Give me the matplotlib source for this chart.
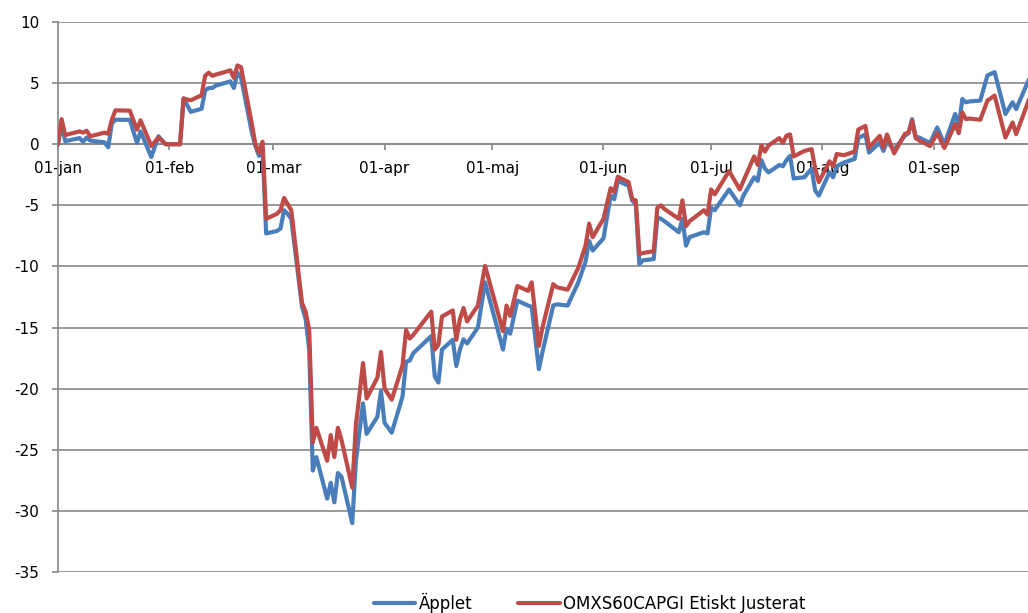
import matplotlib
matplotlib.use("Agg")
import matplotlib.pyplot as plt
import matplotlib.dates as mdates
import pandas as pd

# Cumulative return (%) since the start of 2020, trading days where the curves turn
dates = [
    "2020-01-01", "2020-01-02", "2020-01-03", "2020-01-07", "2020-01-08", "2020-01-09",
    "2020-01-10", "2020-01-14", "2020-01-15", "2020-01-16", "2020-01-17", "2020-01-21",
    "2020-01-23", "2020-01-24", "2020-01-27", "2020-01-29", "2020-01-31", "2020-02-03",
    "2020-02-04", "2020-02-05", "2020-02-06", "2020-02-07", "2020-02-10", "2020-02-11",
    "2020-02-12", "2020-02-13", "2020-02-14", "2020-02-17", "2020-02-18", "2020-02-19",
    "2020-02-20", "2020-02-21", "2020-02-24", "2020-02-25", "2020-02-26", "2020-02-27",
    "2020-02-28", "2020-03-02", "2020-03-03", "2020-03-04", "2020-03-05", "2020-03-06",
    "2020-03-09", "2020-03-10", "2020-03-11", "2020-03-12", "2020-03-13", "2020-03-16",
    "2020-03-17", "2020-03-18", "2020-03-19", "2020-03-20", "2020-03-23", "2020-03-24",
    "2020-03-25", "2020-03-26", "2020-03-27", "2020-03-30", "2020-03-31", "2020-04-01",
    "2020-04-03", "2020-04-06", "2020-04-07", "2020-04-08", "2020-04-09", "2020-04-14",
    "2020-04-15", "2020-04-16", "2020-04-17", "2020-04-20", "2020-04-21", "2020-04-22",
    "2020-04-23", "2020-04-24", "2020-04-27", "2020-04-29", "2020-05-04", "2020-05-05",
    "2020-05-06", "2020-05-08", "2020-05-11", "2020-05-12", "2020-05-14", "2020-05-15",
    "2020-05-18", "2020-05-19", "2020-05-22", "2020-05-25", "2020-05-27", "2020-05-28",
    "2020-05-29", "2020-06-01", "2020-06-03", "2020-06-04", "2020-06-05", "2020-06-08",
    "2020-06-09", "2020-06-10", "2020-06-11", "2020-06-12", "2020-06-15", "2020-06-16",
    "2020-06-17", "2020-06-18", "2020-06-22", "2020-06-23", "2020-06-24", "2020-06-25",
    "2020-06-29", "2020-06-30", "2020-07-01", "2020-07-02", "2020-07-06", "2020-07-09",
    "2020-07-10", "2020-07-13", "2020-07-14", "2020-07-15", "2020-07-16", "2020-07-17",
    "2020-07-20", "2020-07-21", "2020-07-22", "2020-07-23", "2020-07-24", "2020-07-27",
    "2020-07-29", "2020-07-30", "2020-07-31", "2020-08-03", "2020-08-04", "2020-08-05",
    "2020-08-07", "2020-08-10", "2020-08-11", "2020-08-13", "2020-08-14", "2020-08-17",
    "2020-08-18", "2020-08-19", "2020-08-21", "2020-08-24", "2020-08-25", "2020-08-26",
    "2020-08-27", "2020-08-28", "2020-08-31", "2020-09-02", "2020-09-04", "2020-09-07",
    "2020-09-08", "2020-09-09", "2020-09-10", "2020-09-11", "2020-09-14", "2020-09-16",
    "2020-09-18", "2020-09-21", "2020-09-23", "2020-09-24", "2020-09-28",
]

applet = [
    0.0, 1.7, 0.25, 0.5, 0.2, 0.55,
    0.3, 0.15, -0.25, 1.7, 2.0, 2.0,
    0.1, 1.05, -1.05, 0.65, 0.0, 0.0,
    0.0, 3.75, 3.2, 2.65, 2.9, 4.4,
    4.6, 4.6, 4.8, 5.05, 5.15, 4.6,
    5.85, 5.45, 1.0, -0.15, -0.95, -0.4,
    -7.3, -7.1, -6.9, -5.4, -5.7, -6.1,
    -13.3, -14.3, -16.8, -26.7, -25.6, -29.0,
    -27.7, -29.3, -26.9, -27.2, -31.0, -26.0,
    -23.5, -21.2, -23.7, -22.3, -20.2, -22.8,
    -23.6, -20.65, -17.8, -17.7, -17.1, -15.7,
    -19.0, -19.5, -16.8, -16.0, -18.15, -16.8,
    -15.96, -16.3, -15.0, -11.3, -16.8, -15.1,
    -15.5, -12.8, -13.2, -13.3, -18.4, -17.0,
    -13.2, -13.1, -13.2, -11.3, -9.6, -7.9,
    -8.7, -7.7, -4.2, -4.5, -3.0, -3.4,
    -4.6, -4.9, -9.8, -9.5, -9.4, -6.0,
    -6.1, -6.3, -7.2, -6.1, -8.3, -7.6,
    -7.2, -7.3, -5.2, -5.4, -3.7, -5.0,
    -4.2, -2.7, -3.0, -1.3, -2.0, -2.3,
    -1.7, -1.8, -1.3, -0.95, -2.8, -2.7,
    -2.0, -3.8, -4.2, -2.3, -2.7, -1.8,
    -1.5, -1.2, 0.5, 0.8, -0.68, 0.14,
    -0.55, 0.2, -0.45, 0.7, 0.9, 2.05,
    0.6, 0.55, 0.1, 1.37, 0.0, 2.47,
    1.5, 3.7, 3.43, 3.5, 3.57, 5.63,
    5.9, 2.47, 3.43, 2.88, 5.6,
]

omxs60_etiskt = [
    0.0, 2.05, 0.75, 1.05, 0.95, 1.1,
    0.65, 0.95, 0.85, 2.0, 2.77, 2.75,
    1.2, 1.96, -0.15, 0.55, 0.0, 0.0,
    0.0, 3.75, 3.65, 3.6, 4.0, 5.6,
    5.85, 5.6, 5.7, 5.95, 6.05, 5.43,
    6.45, 6.3, 1.7, 0.0, -0.7, 0.2,
    -6.1, -5.7, -5.4, -4.4, -4.9, -5.4,
    -13.0, -13.7, -15.2, -24.4, -23.2, -25.9,
    -23.8, -25.6, -23.2, -24.2, -28.1, -23.0,
    -20.5, -17.9, -20.8, -19.1, -17.0, -20.0,
    -20.9, -18.1, -15.2, -15.9, -15.6, -13.7,
    -16.8, -16.4, -14.1, -13.6, -16.0, -14.3,
    -13.4, -14.5, -13.2, -9.95, -15.3, -13.2,
    -14.05, -11.6, -12.0, -11.3, -16.5, -15.0,
    -11.45, -11.7, -11.9, -10.1, -8.3, -6.5,
    -7.6, -6.1, -3.6, -3.9, -2.66, -3.1,
    -4.5, -4.6, -9.0, -8.9, -8.75, -5.2,
    -5.0, -5.3, -6.1, -4.6, -6.7, -6.3,
    -5.4, -5.76, -3.7, -4.1, -2.2, -3.7,
    -3.0, -1.0, -1.7, -0.1, -0.6, -0.1,
    0.5, 0.1, 0.7, 0.8, -1.0, -0.55,
    -0.4, -2.0, -3.1, -1.4, -1.8, -0.8,
    -0.9, -0.6, 1.2, 1.5, -0.27, 0.68,
    -0.27, 0.8, -0.75, 0.85, 0.95, 1.9,
    0.5, 0.3, -0.15, 0.9, -0.3, 1.65,
    0.9, 2.6, 2.06, 2.1, 2.0, 3.57,
    3.98, 0.55, 1.78, 0.82, 4.0,
]

series_names = ["Äpplet", "OMXS60CAPGI Etiskt Justerat"]
series_colors = ["#4A7EBB", "#BE4B48"]

month_ticks = ["2020-01-01", "2020-02-01", "2020-03-01", "2020-04-01", "2020-05-01",
               "2020-06-01", "2020-07-01", "2020-08-01", "2020-09-01"]
month_labels = ["01-jan", "01-feb", "01-mar", "01-apr", "01-maj",
                "01-jun", "01-jul", "01-aug", "01-sep"]
y_ticks = list(range(-35, 11, 5))

plt.rcParams["font.family"] = ["DejaVu Sans"]

W, H = 1028, 613
fig = plt.figure(figsize=(W / 100, H / 100), dpi=100)
fig.patch.set_facecolor("white")
ax = fig.add_axes([58 / W, (H - 572) / H, (W - 58) / W, (572 - 22) / H])

x = mdates.date2num(pd.to_datetime(dates))
for vals, name, col in zip([applet, omxs60_etiskt], series_names, series_colors):
    ax.plot(x, vals, color=col, lw=3.0, label=name, solid_joinstyle="round",
            solid_capstyle="round", zorder=3)

start = mdates.date2num(pd.Timestamp("2020-01-01"))
ax.set_xlim(start, start + 270.3)
ax.set_ylim(-35, 10)

grid_col = "#888888"
ax.set_yticks(y_ticks)
ax.set_yticklabels([str(v) for v in y_ticks])
ax.yaxis.grid(True, color=grid_col, lw=1.2)
ax.set_axisbelow(True)

ax.set_xticks(mdates.date2num(pd.to_datetime(month_ticks)))
ax.set_xticklabels(month_labels)

for side in ("top", "right"):
    ax.spines[side].set_visible(False)
ax.spines["left"].set_color(grid_col)
ax.spines["left"].set_linewidth(1.2)
ax.spines["bottom"].set_position(("data", 0))
ax.spines["bottom"].set_color(grid_col)
ax.spines["bottom"].set_linewidth(1.2)

ax.tick_params(axis="y", direction="out", length=4.5, width=1.2, color=grid_col,
               pad=9, labelsize=11, labelcolor="black")
ax.tick_params(axis="x", direction="out", length=4.5, width=1.2, color=grid_col,
               pad=7.5, labelsize=11, labelcolor="black")

leg = fig.legend(loc="center", bbox_to_anchor=(589.5 / W, 1 - 603 / H), ncol=2,
                 frameon=False, fontsize=12, handlelength=2.5, handletextpad=0.2,
                 columnspacing=2.75)

fig.savefig("out.png", dpi=100, facecolor="white")
